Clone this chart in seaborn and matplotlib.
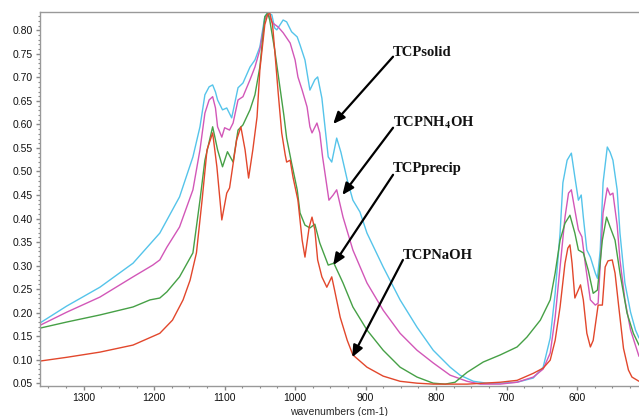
import matplotlib
matplotlib.use("Agg")
import matplotlib.pyplot as plt
import seaborn as sns
import pandas as pd
from matplotlib.ticker import MultipleLocator, FormatStrFormatter

# ---- data (wavenumber cm-1, absorbance) ----
solid_wn = [1362, 1324, 1277, 1230, 1192, 1164, 1145, 1135, 1128, 1122, 1117, 1113, 1110, 1103, 1097, 1090,
            1081, 1074, 1064, 1057, 1050, 1043, 1039, 1033, 1029, 1026, 1017, 1012, 1005, 997,
            993, 986, 979, 972, 968, 962, 953, 948, 941, 935, 926, 918, 908, 898, 875, 851, 827,
            804, 780, 766, 747, 728, 709, 685, 662, 648, 638, 631, 624, 620, 614, 608, 603, 598,
            594, 591, 586, 581, 574, 571, 567, 563, 557, 553, 549, 543, 539, 532, 524, 517, 512]
solid_ab = [0.178, 0.214, 0.254, 0.305, 0.369, 0.446, 0.531, 0.595, 0.663, 0.680, 0.684, 0.669, 0.652, 0.631,
            0.635, 0.614, 0.678, 0.688, 0.722, 0.737, 0.765, 0.829, 0.837, 0.833, 0.805, 0.801,
            0.822, 0.818, 0.797, 0.786, 0.769, 0.737, 0.673, 0.695, 0.701, 0.656, 0.531, 0.520,
            0.571, 0.541, 0.482, 0.439, 0.414, 0.369, 0.297, 0.227, 0.169, 0.120, 0.084, 0.067,
            0.054, 0.050, 0.050, 0.052, 0.061, 0.084, 0.146, 0.241, 0.369, 0.476, 0.524, 0.539,
            0.488, 0.439, 0.450, 0.403, 0.333, 0.318, 0.284, 0.273, 0.333, 0.476, 0.552, 0.541,
            0.524, 0.461, 0.369, 0.263, 0.201, 0.163, 0.146]

nh4_wn = [1362, 1324, 1277, 1230, 1202, 1192, 1182, 1164, 1145, 1135, 1128, 1122, 1117, 1113, 1110, 1104,
          1100, 1093, 1088, 1081, 1074, 1064, 1057, 1050, 1043, 1039, 1032, 1024, 1017, 1007,
          1000, 996, 990, 983, 979, 976, 969, 965, 961, 952, 946, 941, 932, 918, 898, 875, 851,
          827, 804, 780, 756, 737, 709, 685, 662, 648, 638, 631, 624, 617, 612, 608, 603, 598,
          593, 588, 581, 574, 570, 563, 557, 553, 549, 543, 539, 532, 524, 512]
nh4_ab = [0.173, 0.201, 0.233, 0.276, 0.301, 0.312, 0.339, 0.382, 0.461, 0.546, 0.624, 0.652, 0.659, 0.635,
          0.595, 0.573, 0.593, 0.588, 0.603, 0.652, 0.659, 0.695, 0.722, 0.759, 0.822, 0.837,
          0.816, 0.807, 0.795, 0.773, 0.737, 0.701, 0.673, 0.637, 0.595, 0.582, 0.603, 0.582,
          0.531, 0.439, 0.450, 0.461, 0.403, 0.333, 0.263, 0.205, 0.156, 0.120, 0.093, 0.067,
          0.054, 0.048, 0.048, 0.052, 0.063, 0.080, 0.114, 0.190, 0.297, 0.403, 0.454, 0.461,
          0.418, 0.376, 0.361, 0.301, 0.227, 0.216, 0.220, 0.412, 0.465, 0.450, 0.454, 0.386,
          0.312, 0.227, 0.163, 0.107]

precip_wn = [1362, 1324, 1277, 1230, 1206, 1192, 1182, 1164, 1145, 1135, 1128, 1117, 1110, 1103,
             1096, 1088, 1081, 1074, 1064, 1057, 1050, 1043, 1039, 1036, 1029, 1022, 1016, 1012,
             1005, 997, 993, 986, 979, 972, 965, 953, 945, 936, 932, 918, 898, 875, 851, 827,
             804, 787, 773, 756, 733, 709, 685, 671, 652, 638, 631, 624, 617, 610, 603, 598, 591,
             584, 577, 571, 564, 558, 553, 546, 539, 529, 520, 512]
precip_ab = [0.167, 0.180, 0.195, 0.212, 0.227, 0.231, 0.244, 0.276, 0.327, 0.439, 0.524, 0.595,
             0.546, 0.510, 0.542, 0.520, 0.588, 0.599, 0.631, 0.663, 0.722, 0.829, 0.837, 0.822,
             0.759, 0.684, 0.620, 0.571, 0.518, 0.461, 0.412, 0.386, 0.380, 0.388, 0.348, 0.301,
             0.305, 0.276, 0.263, 0.212, 0.163, 0.120, 0.084, 0.063, 0.050, 0.048, 0.052, 0.073,
             0.095, 0.110, 0.127, 0.148, 0.184, 0.227, 0.284, 0.354, 0.390, 0.407, 0.369, 0.333,
             0.327, 0.290, 0.241, 0.248, 0.354, 0.403, 0.382, 0.354, 0.284, 0.199, 0.156, 0.131]

naoh_wn = [1362, 1324, 1277, 1230, 1192, 1174, 1159, 1149, 1140, 1132, 1125, 1117, 1111, 1104,
           1097, 1093, 1083, 1077, 1071, 1066, 1060, 1054, 1050, 1043, 1039, 1036, 1032, 1029,
           1024, 1019, 1014, 1012, 1007, 1003, 996, 990, 986, 980, 976, 972, 968, 962, 955, 948,
           944, 936, 926, 918, 898, 875, 851, 827, 804, 756, 709, 685, 662, 648, 638, 631, 624,
           617, 613, 610, 607, 603, 595, 591, 586, 581, 577, 570, 564, 560, 556, 550, 546, 541,
           534, 527, 522, 512]
naoh_ab = [0.097, 0.105, 0.116, 0.131, 0.156, 0.184, 0.227, 0.269, 0.327, 0.439, 0.546, 0.582,
           0.510, 0.397, 0.454, 0.465, 0.567, 0.595, 0.546, 0.486, 0.546, 0.616, 0.716, 0.812,
           0.833, 0.837, 0.812, 0.759, 0.667, 0.582, 0.535, 0.520, 0.524, 0.488, 0.439, 0.354,
           0.318, 0.382, 0.403, 0.376, 0.312, 0.276, 0.254, 0.276, 0.248, 0.190, 0.141, 0.110,
           0.084, 0.065, 0.054, 0.050, 0.048, 0.048, 0.052, 0.056, 0.071, 0.082, 0.099, 0.141,
           0.212, 0.305, 0.337, 0.344, 0.305, 0.231, 0.259, 0.227, 0.156, 0.127, 0.141, 0.216,
           0.216, 0.297, 0.310, 0.312, 0.284, 0.216, 0.124, 0.078, 0.063, 0.054]

series_names = ["TCPsolid", "TCPNH4OH", "TCPprecip", "TCPNaOH"]
series_colors = ["#55c4ea", "#d257b8", "#46a046", "#e2472c"]
y_ticks = [0.05, 0.10, 0.15, 0.20, 0.25, 0.30, 0.35, 0.40, 0.45, 0.50, 0.55, 0.60, 0.65, 0.70, 0.75, 0.80]
x_ticks = [1300, 1200, 1100, 1000, 900, 800, 700, 600]
x_label = "wavenumbers (cm-1)"

frames = []
for name, wn, ab in [("TCPsolid", solid_wn, solid_ab), ("TCPNH4OH", nh4_wn, nh4_ab),
                     ("TCPprecip", precip_wn, precip_ab), ("TCPNaOH", naoh_wn, naoh_ab)]:
    frames.append(pd.DataFrame({"wn": wn, "ab": ab, "series": name}))
df = pd.concat(frames, ignore_index=True)

sns.set_style("ticks")
plt.rcParams["font.family"] = ["Liberation Sans", "DejaVu Sans"]
plt.rcParams["mathtext.fontset"] = "stix"

fig = plt.figure(figsize=(6.39, 4.16), dpi=100)
ax = fig.add_axes([40 / 639, 1 - 386 / 416, 1 - 40 / 639, (386 - 12) / 416])

sns.lineplot(data=df, x="wn", y="ab", hue="series", hue_order=series_names,
             palette=dict(zip(series_names, series_colors)), estimator=None,
             linewidth=1.0, legend=False, ax=ax)

ax.set_xlim(1362, 512)
ax.set_ylim(0.044, 0.839)
ax.set_xticks(x_ticks)
ax.set_yticks(y_ticks)
ax.yaxis.set_major_formatter(FormatStrFormatter("%.2f"))
ax.xaxis.set_minor_locator(MultipleLocator(25))
ax.yaxis.set_minor_locator(MultipleLocator(0.01))
ax.tick_params(axis="both", which="major", length=3, width=1, color="#888888",
               labelsize=7.5, labelcolor="#111111", pad=2)
ax.tick_params(axis="both", which="minor", length=1.5, width=0.8, color="#888888")
ax.set_xlabel(x_label, fontsize=7.5, labelpad=3)
ax.set_ylabel("")
for side in ["top", "left", "bottom"]:
    ax.spines[side].set_color("#999999")
    ax.spines[side].set_linewidth(1.0)
ax.spines["right"].set_visible(False)

label_font = dict(family=["Liberation Serif", "DejaVu Serif"], fontweight="bold", fontsize=10.5,
                  color="#111111", ha="left", va="baseline")
labels = [("TCPsolid", 861, 0.746, (861, 0.744), (946, 0.601)),
          (r"TCPNH$_\mathbf{4}$OH", 861, 0.595, (861, 0.593), (933, 0.450)),
          ("TCPprecip", 861, 0.499, (861, 0.493), (946, 0.301)),
          ("TCPNaOH", 847, 0.314, (847, 0.312), (919, 0.105))]
for text, tx, ty, tail, head in labels:
    ax.text(tx, ty, text, **label_font)
    ax.annotate("", xy=head, xytext=tail,
                arrowprops=dict(arrowstyle="-|>,head_length=0.7,head_width=0.3",
                                color="black", lw=1.6, shrinkA=0, shrinkB=0))

fig.savefig("out.png", dpi=100)
